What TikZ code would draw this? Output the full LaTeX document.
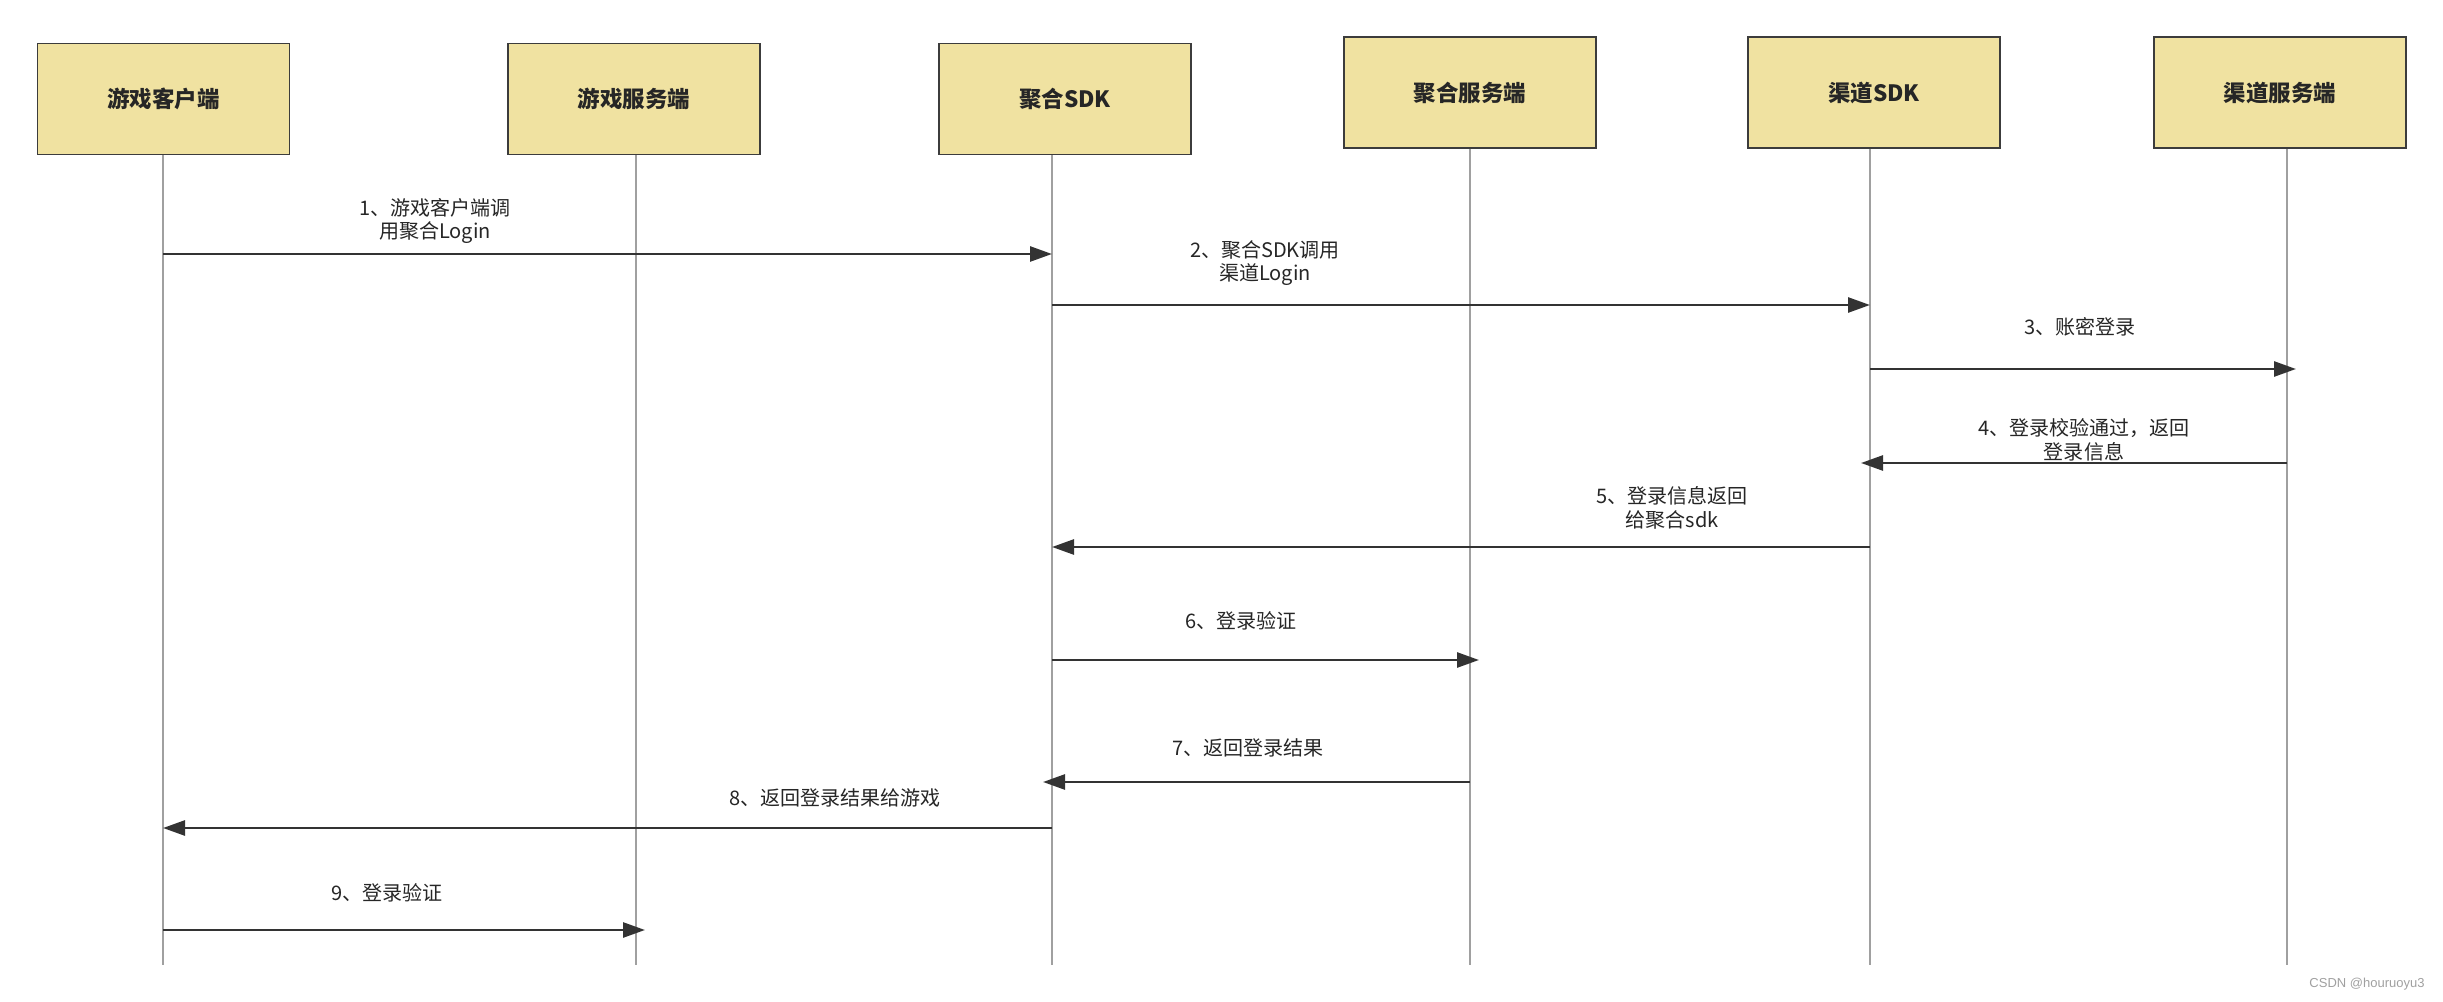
\documentclass[tikz,border=0pt]{standalone}
\usepackage{fontspec}
\setmainfont{Noto Sans CJK SC}
\newfontfamily\wmfont{Liberation Sans}
\usepackage{tikz}
\usetikzlibrary{arrows.meta, positioning, calc}
\definecolor{boxfill}{HTML}{F0E2A1}
\definecolor{boxline}{HTML}{3C3C3C}
\definecolor{lifegray}{HTML}{A0A0A0}
\definecolor{arrowdark}{HTML}{333333}
\definecolor{textdark}{HTML}{262626}
\tikzset{
  participant/.style={
    rectangle, draw=boxline, fill=boxfill,
    line width=1.1pt,
    minimum width=5.04cm,
    minimum height=2.22cm,
    text=textdark,
    font=\bfseries\fontsize{12.8pt}{15pt}\selectfont
  },
  % lifeline and message styles
  lifeline/.style={draw=lifegray, line width=0.9pt},
  message/.style={-{Triangle[length=0.44cm,width=0.3cm]}, line width=1.5pt, draw=arrowdark},
  overshoot/.style={shorten >=-0.18cm},
  msglabel/.style={align=center, text=textdark, inner sep=0pt,
    font=\fontsize{11.4pt}{13.4pt}\selectfont}
}

\begin{document}
\begin{tikzpicture}

\useasboundingbox (0,0) rectangle (48.86,-20.04);

% Participants
\node[participant] (client) at (3.27,-1.98) {游戏客户端};
\node[participant] (gameserver) at (12.68,-1.98) {游戏服务端};
\node[participant] (aggsdk) at (21.30,-1.98) {聚合SDK};
\node[participant] (aggserver) at (29.40,-1.85) {聚合服务端};
\node[participant] (chsdk) at (37.48,-1.85) {渠道SDK};
\node[participant] (chserver) at (45.60,-1.85) {渠道服务端};

% Lifeline ends
\coordinate (clientend) at (3.26,-19.30);
\coordinate (gameserverend) at (12.72,-19.30);
\coordinate (aggsdkend) at (21.04,-19.30);
\coordinate (aggserverend) at (29.40,-19.30);
\coordinate (chsdkend) at (37.40,-19.30);
\coordinate (chserverend) at (45.74,-19.30);

\draw[lifeline] (client.south -| clientend) -- (clientend);
\draw[lifeline] (gameserver.south -| gameserverend) -- (gameserverend);
\draw[lifeline] (aggsdk.south -| aggsdkend) -- (aggsdkend);
\draw[lifeline] (aggserver.south -| aggserverend) -- (aggserverend);
\draw[lifeline] (chsdk.south -| chsdkend) -- (chsdkend);
\draw[lifeline] (chserver.south -| chserverend) -- (chserverend);

% Message levels
\coordinate (m1) at (0,-5.08);
\coordinate (m2) at (0,-6.10);
\coordinate (m3) at (0,-7.38);
\coordinate (m4) at (0,-9.26);
\coordinate (m5) at (0,-10.94);
\coordinate (m6) at (0,-13.20);
\coordinate (m7) at (0,-15.64);
\coordinate (m8) at (0,-16.56);
\coordinate (m9) at (0,-18.60);

% Messages
\draw[message] (clientend |- m1) -- (aggsdkend |- m1);
\draw[message] (aggsdkend |- m2) -- (chsdkend |- m2);
\draw[message, overshoot] (chsdkend |- m3) -- (chserverend |- m3);
\draw[message, overshoot] (chserverend |- m4) -- (chsdkend |- m4);
\draw[message] (chsdkend |- m5) -- (aggsdkend |- m5);
\draw[message, overshoot] (aggsdkend |- m6) -- (aggserverend |- m6);
\draw[message, overshoot] (aggserverend |- m7) -- (aggsdkend |- m7);
\draw[message] (aggsdkend |- m8) -- (clientend |- m8);
\draw[message, overshoot] (clientend |- m9) -- (gameserverend |- m9);

% Message labels
\node[msglabel] (t1) at (8.70,-4.42) {1、游戏客户端调\\用聚合Login};
\node[msglabel] (t2) at (25.30,-5.26) {2、聚合SDK调用\\渠道Login};
\node[msglabel] (t3) at (41.60,-6.54) {3、账密登录};
\node[msglabel] (t4) at (41.68,-8.80) {4、登录校验通过，返回\\登录信息};
\node[msglabel] (t5) at (33.44,-10.16) {5、登录信息返回\\给聚合sdk};
\node[msglabel] (t6) at (24.82,-12.42) {6、登录验证};
\node[msglabel] (t7) at (24.96,-14.96) {7、返回登录结果};
\node[msglabel] (t8) at (16.70,-15.96) {8、返回登录结果给游戏};
\node[msglabel] (t9) at (7.74,-17.86) {9、登录验证};

% Watermark
\node[text=lifegray, font=\wmfont\fontsize{7.4pt}{9pt}\selectfont] (mark) at (47.34,-19.68) {CSDN @houruoyu3};

\end{tikzpicture}
\end{document}
